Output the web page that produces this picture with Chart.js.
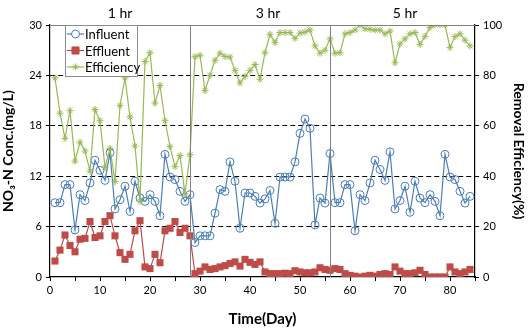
<!DOCTYPE html>
<html>
<head>
<meta charset="utf-8">
<script src="https://cdn.jsdelivr.net/npm/chart.js@4"></script>
<style>
  html, body { margin: 0; padding: 0; background: #fff; }
  #wrap { width: 529px; height: 328px; }
</style>
</head>
<body>
<div id="wrap"><canvas id="c" width="529" height="328"></canvas></div>
<script>
const days = [1,2,3,4,5,6,7,8,9,10,11,12,13,14,15,16,17,18,19,20,21,22,23,24,25,26,27,28,
  29,30,31,32,33,34,35,36,37,38,39,40,41,42,43,44,45,46,47,48,49,50,51,52,53,54,55,56,
  57,58,59,60,61,62,63,64,65,66,67,68,69,70,71,72,73,74,75,76,77,78,79,80,81,82,83,84];

const influent = [8.85,8.85,11.0,11.0,5.6,9.8,9.1,11.2,13.9,12.7,11.5,14.8,8.1,9.2,10.8,7.8,11.4,9.4,9.0,9.8,9.0,7.3,14.6,11.9,11.6,10.2,9.0,9.8,
  4.1,4.9,4.9,4.9,7.6,10.4,10.2,13.7,11.4,5.8,10.0,10.0,9.6,8.8,9.3,10.3,6.4,11.9,11.9,11.9,13.7,17.1,18.8,17.7,6.2,9.4,8.8,14.7,
  8.85,8.85,11.0,11.0,5.5,9.8,9.1,11.2,13.9,12.8,11.5,14.9,8.1,9.1,10.8,7.7,11.4,9.4,8.85,9.8,9.0,7.3,14.6,11.9,11.6,10.2,8.8,9.6];

const effluent = [1.9,3.2,5.0,3.75,3.0,4.5,4.6,6.6,4.7,4.9,6.6,7.3,4.9,2.9,2.1,2.7,5.5,6.7,1.2,1.0,2.7,1.7,5.5,5.8,6.6,5.3,5.8,4.9,
  0.4,0.7,1.2,0.9,1.0,1.2,1.35,1.6,1.8,1.3,2.1,1.75,1.5,1.8,0.6,0.4,0.4,0.4,0.45,0.4,0.75,0.6,0.5,0.5,0.6,1.1,0.9,0.8,
  1.0,0.9,0.4,0.2,0.1,0.0,0.1,0.2,0.1,0.3,0.4,0.3,1.2,0.7,0.4,0.4,0.5,0.8,0.3,0.0,0.0,0.0,0.0,1.2,0.6,0.4,0.6,0.9];

const efficiency = [79,65,55,66,46,53.5,50,42,66.5,62,43.5,51,38,68,79,63.5,52,30,85.5,89,69,76,62,51.7,43.8,48.2,33,48.5,
  87.4,88,74,80,86,88.8,87.5,87.3,82,77,79.6,82,84.3,78.5,89,96.3,93,97,97,97,94.7,96.8,97.2,98,91.7,88.8,90,94.5,
  88.8,89,96.5,97,98,100,98.5,98.3,98,98,96.5,97.6,85,92.5,94.5,96.5,97,92.3,95.5,99,100,100,100,91,95.4,96.5,94,91.7];

const concTicks = [0,6,12,18,24,30];
const effTicks = [0,20,40,60,80,100];
const phaseBreaks = [28,56];
const phaseLabels = [{ text: '1 hr', day: 14 }, { text: '3 hr', day: 43.6 }, { text: '5 hr', day: 71 }];
const seriesNames = ['Influent', 'Effluent', 'Efficiency'];

const blue = '#4A7EBB', red = '#BE4B48', green = '#98B954';
const font = 'Lato, "Open Sans", sans-serif';

const pts = (arr) => days.map((d, i) => ({ x: d, y: arr[i] }));

const overlay = {
  id: 'overlay',
  afterDatasetsDraw(chart) {
    const { ctx, chartArea: a, scales } = chart;
    ctx.save();
    // top frame line
    ctx.strokeStyle = '#808080';
    ctx.lineWidth = 1;
    ctx.beginPath();
    ctx.moveTo(a.left, a.top + 0.5);
    ctx.lineTo(a.right, a.top + 0.5);
    ctx.stroke();
    // phase dividers
    phaseBreaks.forEach(d => {
      const x = Math.round(scales.x.getPixelForValue(d)) + 0.5;
      ctx.beginPath();
      ctx.moveTo(x, a.top);
      ctx.lineTo(x, a.bottom);
      ctx.stroke();
    });
    // phase labels
    ctx.fillStyle = '#000';
    ctx.font = '14px ' + font;
    ctx.textAlign = 'center';
    ctx.textBaseline = 'middle';
    phaseLabels.forEach(p => {
      ctx.fillText(p.text, scales.x.getPixelForValue(p.day), 13);
    });

    // legend box
    const bx = a.left + 15, by = a.top, bw = 72, bh = 51;
    ctx.fillStyle = '#fff';
    ctx.fillRect(bx, by, bw, bh);
    ctx.strokeStyle = '#8c8c8c';
    ctx.lineWidth = 1;
    ctx.strokeRect(bx + 0.5, by + 0.5, bw, bh);
    const colors = [blue, red, green];
    const fills = ['#fff', red, green];
    ctx.textAlign = 'left';
    ctx.font = '13px ' + font;
    seriesNames.forEach((name, i) => {
      const y = by + 9 + i * 16.5;
      ctx.strokeStyle = colors[i];
      ctx.lineWidth = 1.2;
      ctx.beginPath();
      ctx.moveTo(bx + 2, y);
      ctx.lineTo(bx + 19, y);
      ctx.stroke();
      const ds = chart.data.datasets[i];
      ctx.fillStyle = fills[i];
      ctx.lineWidth = 1;
      Chart.helpers.drawPoint(ctx, {
        pointStyle: ds.pointStyle, radius: ds.pointRadius, borderWidth: 1
      }, bx + 10.5, y);
      ctx.fillStyle = '#000';
      ctx.fillText(name, bx + 20, y + 1);
    });
    ctx.restore();
  }
};

new Chart(document.getElementById('c'), {
  type: 'line',
  data: {
    datasets: [
      {
        label: seriesNames[0], data: pts(influent), yAxisID: 'y',
        borderColor: blue, backgroundColor: 'rgba(0,0,0,0)', borderWidth: 1.2,
        pointStyle: 'circle', pointRadius: 4, pointBorderWidth: 1,
        pointBorderColor: blue, pointBackgroundColor: 'rgba(0,0,0,0)', order: 2
      },
      {
        label: seriesNames[1], data: pts(effluent), yAxisID: 'y',
        borderColor: red, backgroundColor: red, borderWidth: 1.2,
        pointStyle: 'rect', pointRadius: 5, pointBorderWidth: 0,
        pointBorderColor: red, pointBackgroundColor: red, order: 3
      },
      {
        label: seriesNames[2], data: pts(efficiency), yAxisID: 'y1',
        borderColor: green, backgroundColor: green, borderWidth: 1.2,
        pointStyle: 'star', pointRadius: 3.5, pointBorderWidth: 1,
        pointBorderColor: green, pointBackgroundColor: green, order: 1
      }
    ]
  },
  options: {
    responsive: false,
    animation: false,
    layout: { padding: { top: 25, left: 0, right: 0, bottom: 0 } },
    plugins: { legend: { display: false }, tooltip: { enabled: false } },
    scales: {
      x: {
        type: 'linear', min: 0, max: 85,
        afterFit: (s) => { s.height = 51; },
        ticks: {
          stepSize: 5, autoSkip: false, maxRotation: 0, padding: 3,
          color: '#000', font: { family: font, size: 11 },
          callback: (v) => (v % 10 === 0 ? v : '')
        },
        grid: { drawOnChartArea: false, drawTicks: true, tickLength: 4, tickColor: '#000' },
        border: { color: '#000', width: 1.2 },
        title: {
          display: true, text: 'Time(Day)', color: '#000',
          font: { family: font, size: 15, weight: 'bold' }, padding: { top: 2, bottom: 0 }
        }
      },
      y: {
        position: 'left', min: 0, max: 30,
        afterFit: (s) => { s.width = 50; },
        afterBuildTicks: (s) => { s.ticks = concTicks.map(v => ({ value: v })); },
        ticks: { color: '#000', font: { family: font, size: 11 }, padding: 4 },
        grid: {
          color: (c) => (c.tick && c.tick.value > 0 && c.tick.value < 30 ? '#000' : 'rgba(0,0,0,0)'),
          lineWidth: 1, drawTicks: true, tickLength: 4, tickColor: '#000'
        },
        border: { color: '#000', width: 1.2, dash: [5, 3] },
        title: {
          display: true, text: 'NO\u2083-N Conc.(mg/L)', color: '#000',
          font: { family: font, size: 14, weight: 'bold' }, padding: { top: 0, bottom: 2 }
        }
      },
      y1: {
        position: 'right', min: 0, max: 100,
        afterFit: (s) => { s.width = 54; },
        afterBuildTicks: (s) => { s.ticks = effTicks.map(v => ({ value: v })); },
        ticks: { color: '#000', font: { family: font, size: 11 }, padding: 4 },
        grid: { drawOnChartArea: false, drawTicks: true, tickLength: 4, tickColor: '#000' },
        border: { color: '#000', width: 1.2 },
        title: {
          display: true, text: 'Removal Efficiency(%)', color: '#000',
          font: { family: font, size: 14, weight: 'bold' }, padding: { top: 2, bottom: 0 }
        }
      }
    }
  },
  plugins: [overlay]
});
</script>
</body>
</html>
